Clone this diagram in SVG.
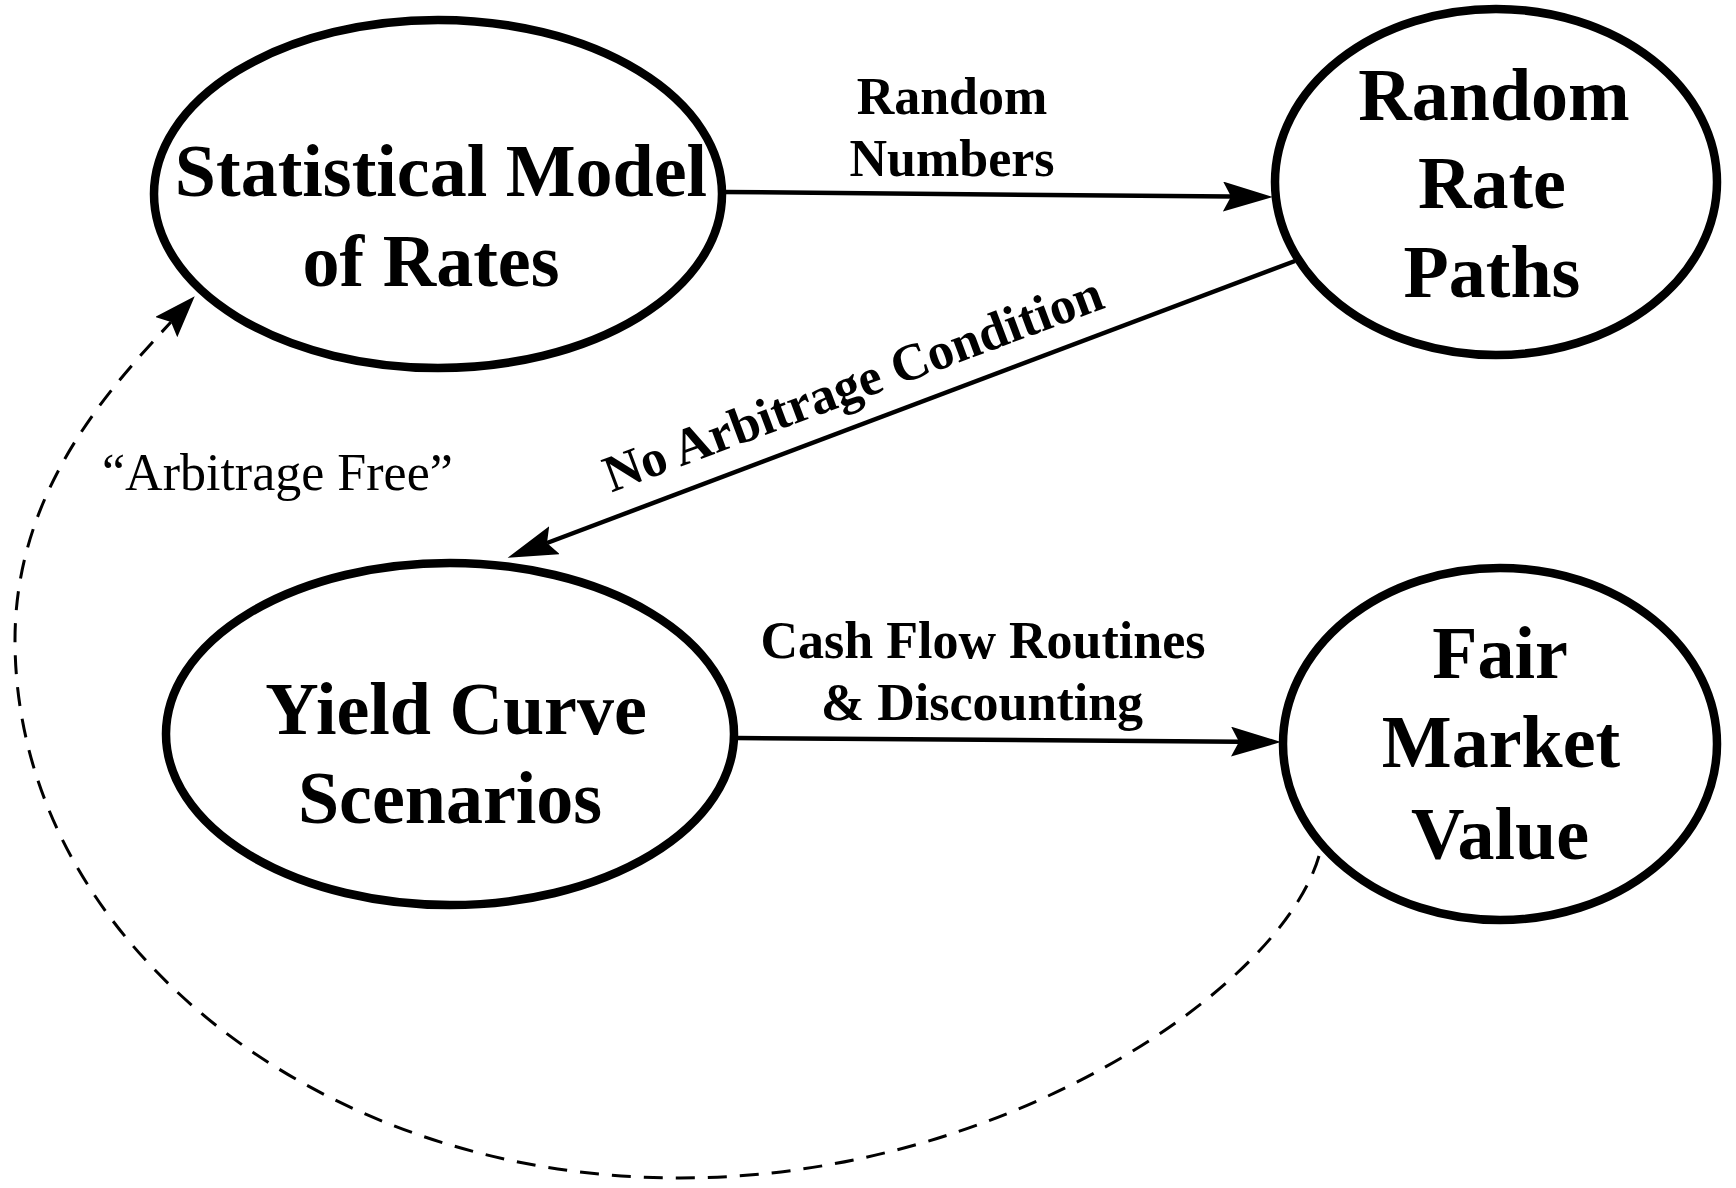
<svg xmlns="http://www.w3.org/2000/svg" width="1736" height="1188" viewBox="0 0 1736 1188">
<style>
.node{fill:#fff;stroke:#000;stroke-width:8.5}
.nt{font-family:"Liberation Serif","Times New Roman",serif;font-weight:bold;font-size:74px;text-anchor:middle;fill:#000}
.et{font-family:"Liberation Serif","Times New Roman",serif;font-weight:bold;font-size:52px;text-anchor:middle;fill:#000}
.rt{font-family:"Liberation Serif","Times New Roman",serif;font-size:52px;fill:#000}
.edge{fill:none;stroke:#000;stroke-width:4.5}
.dash{fill:none;stroke:#000;stroke-width:3;stroke-dasharray:19 13}
</style>
<defs>
<marker id="head" markerUnits="userSpaceOnUse" markerWidth="52" markerHeight="32" refX="8" refY="15" orient="auto" viewBox="0 0 52 32">
<path d="M0,0 L50,15 L0,30 L8,15 Z" fill="#000"/>
</marker>
<marker id="headS" markerUnits="userSpaceOnUse" markerWidth="44" markerHeight="32" refX="7" refY="15" orient="auto" viewBox="0 0 44 32">
<path d="M0,0 L42,15 L0,30 L7,15 Z" fill="#000"/>
</marker>
</defs>
<rect width="1736" height="1188" fill="#fff"/>
<g id="connectors">
<path class="edge" d="M723,192 L1231,196.6" marker-end="url(#head)"/>
<path class="edge" d="M1295,261 L547,543" marker-end="url(#head)"/>
<path class="edge" d="M736,738 L1239,741.7" marker-end="url(#head)"/>
<path class="dash" d="M1319,856 C1280,990 1000,1178 680,1178 C313,1178 15,937 15,640 C15,490 111,387 171,322" marker-end="url(#headS)"/>
<text class="et" x="952" y="114">Random</text>
<text class="et" x="952" y="176">Numbers</text>
<text class="et" transform="translate(859,400) rotate(-20.5)" x="0" y="0">No Arbitrage Condition</text>
<text class="et" x="983" y="658">Cash Flow Routines</text>
<text class="et" x="982" y="720">&amp; Discounting</text>
<text class="rt" x="102" y="490">“Arbitrage Free”</text>
</g>
<g id="node-statistical-model">
<ellipse class="node" cx="438" cy="194" rx="284" ry="174"/>
<text class="nt" x="441" y="196">Statistical Model</text>
<text class="nt" x="431" y="286">of Rates</text>
</g>
<g id="node-random-rate-paths">
<ellipse class="node" cx="1496" cy="182" rx="221" ry="173"/>
<text class="nt" x="1494" y="120">Random</text>
<text class="nt" x="1492" y="208">Rate</text>
<text class="nt" x="1492" y="297">Paths</text>
</g>
<g id="node-yield-curve">
<ellipse class="node" cx="450" cy="734" rx="284" ry="171"/>
<text class="nt" x="456" y="734">Yield Curve</text>
<text class="nt" x="450" y="823">Scenarios</text>
</g>
<g id="node-fair-market-value">
<ellipse class="node" cx="1500" cy="744" rx="217" ry="176"/>
<text class="nt" x="1500" y="678">Fair</text>
<text class="nt" x="1501" y="767">Market</text>
<text class="nt" x="1500" y="859">Value</text>
</g>
</svg>
